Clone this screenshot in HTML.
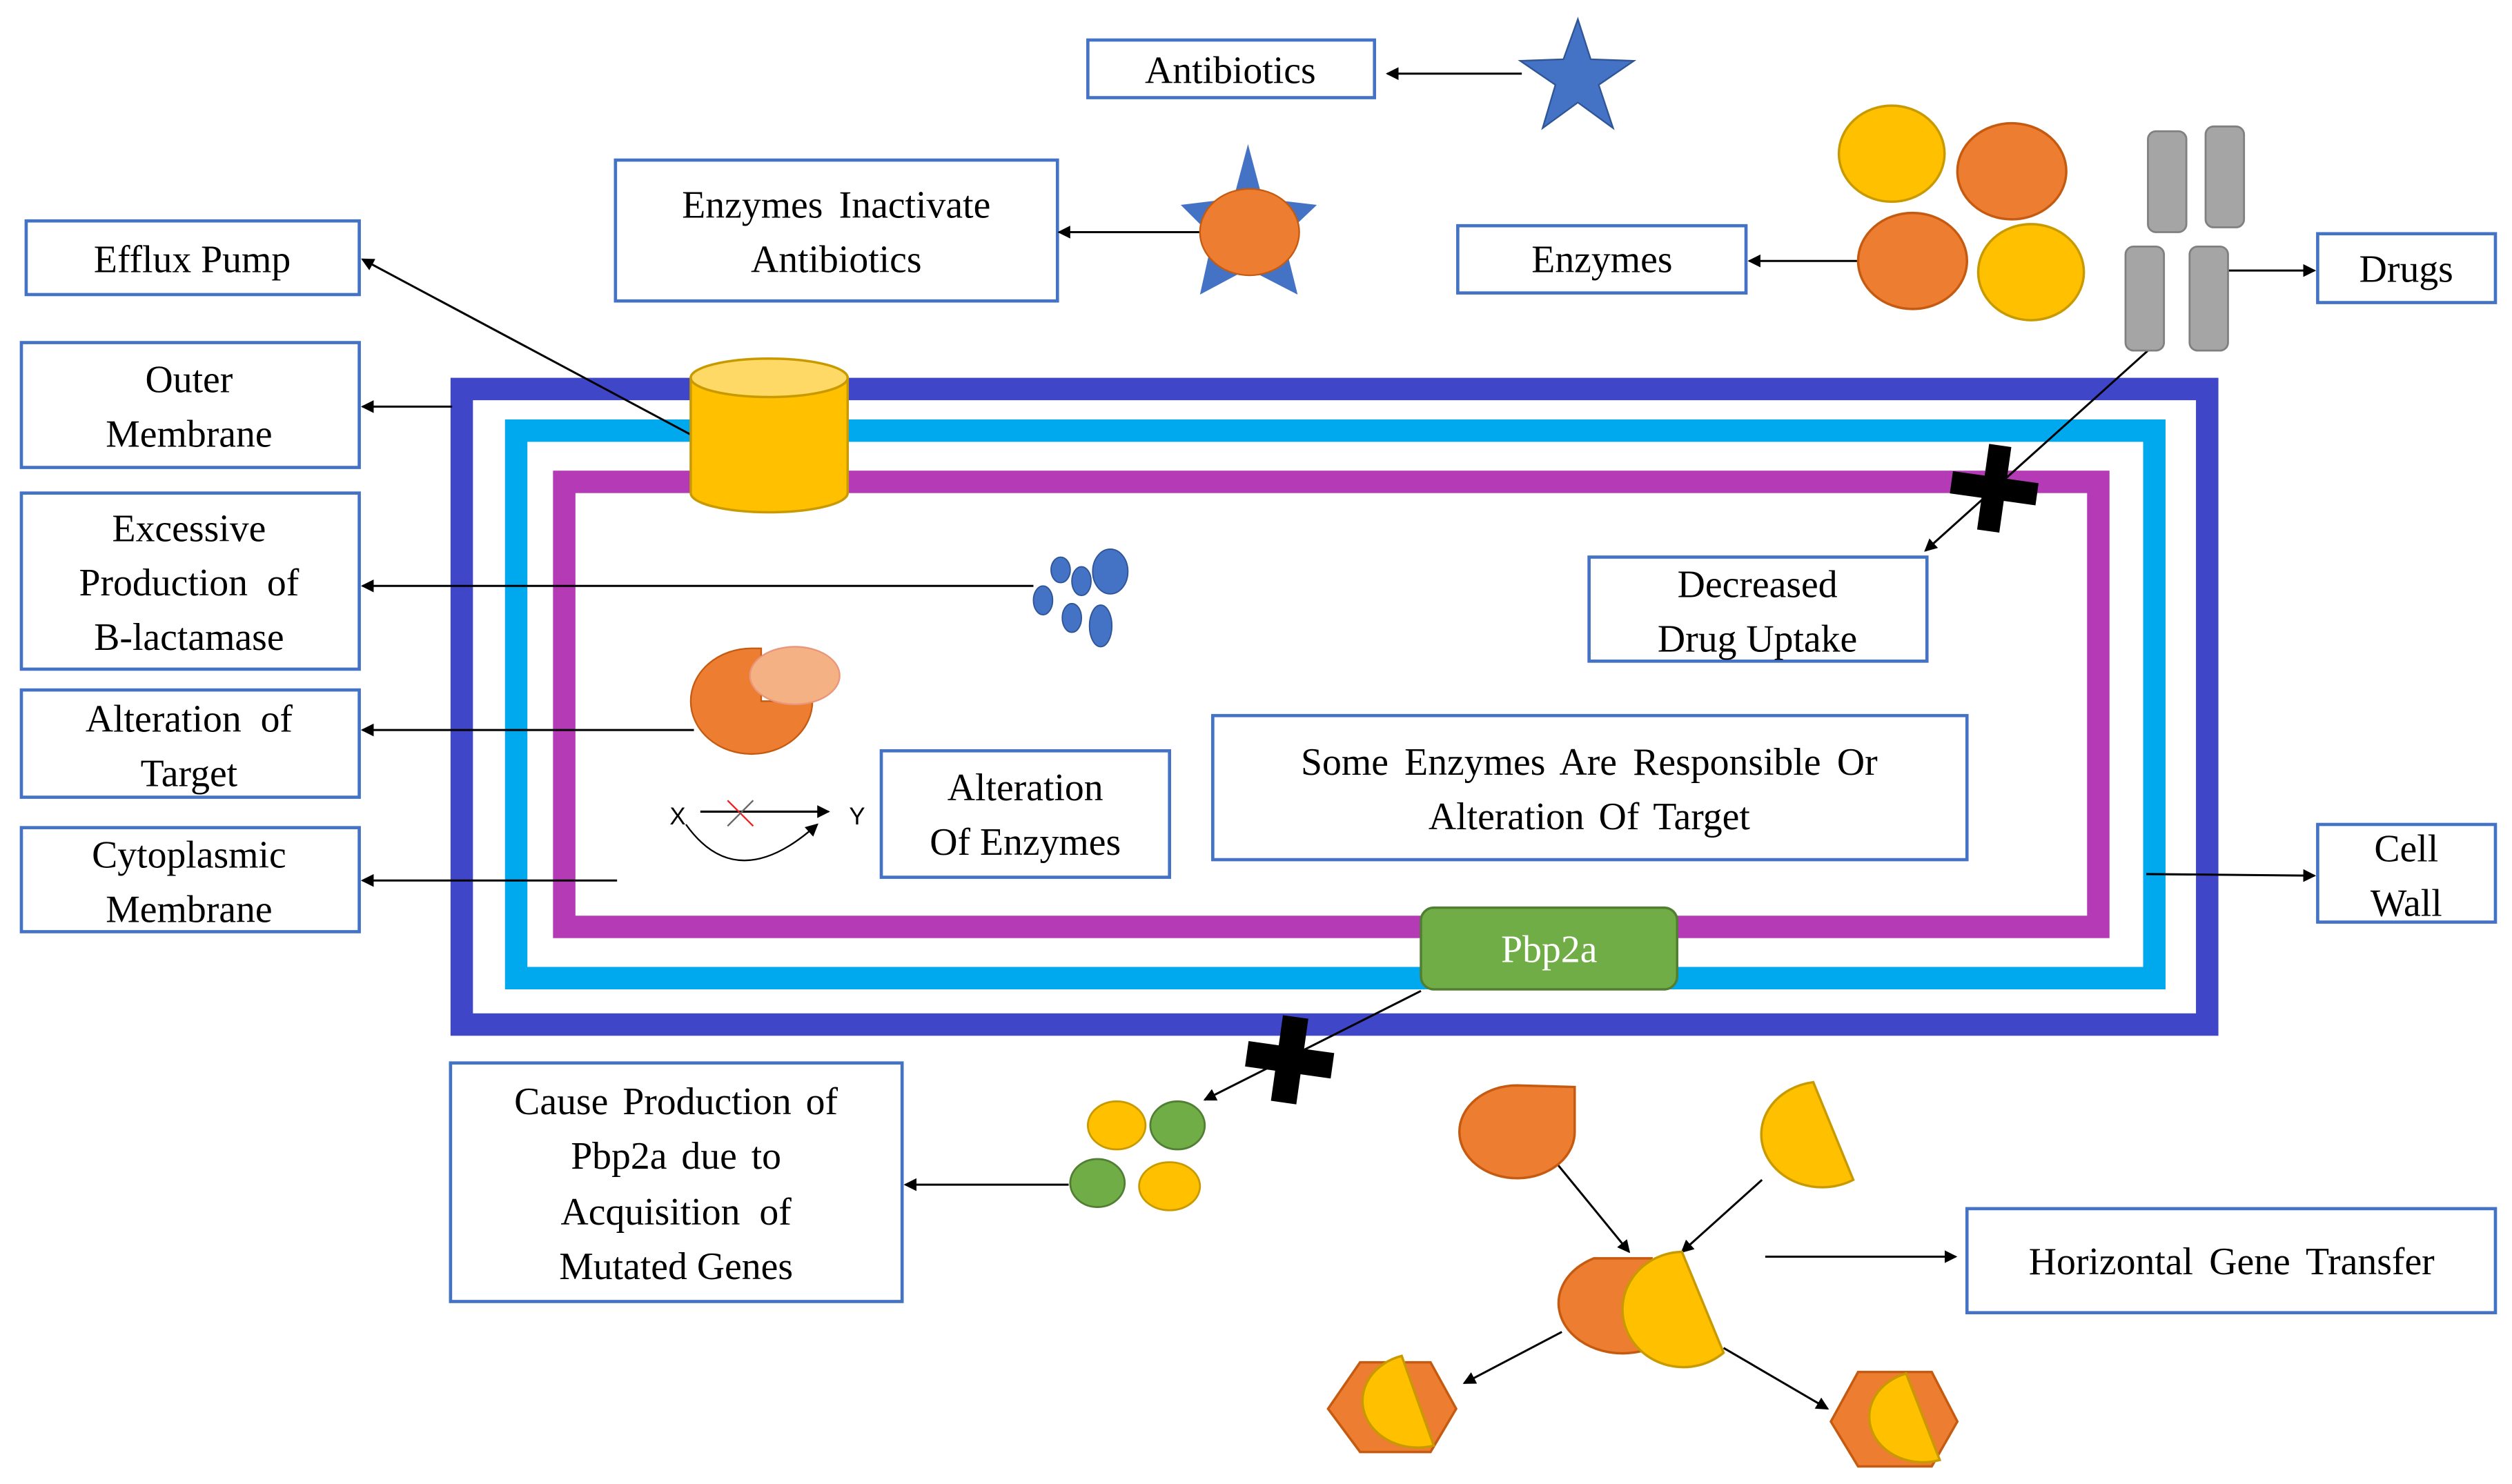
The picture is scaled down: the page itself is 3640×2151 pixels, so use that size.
<!DOCTYPE html>
<html><head><meta charset="utf-8"><style>
html,body{margin:0;padding:0;background:#fff;}
#wrap{position:relative;width:3640px;height:2151px;overflow:hidden;}
svg{display:block;position:absolute;left:0;top:0;}
#txt{position:absolute;left:0;top:0;width:1568px;height:927px;transform:scale(2.32143,2.32039);transform-origin:0 0;}
#txt div{position:absolute;width:400px;text-align:center;font-family:"Liberation Serif","Times New Roman",serif;font-size:24px;line-height:24px;color:#000;white-space:nowrap;}
#txt div.s{font-family:"Liberation Sans",sans-serif;font-size:15px;line-height:15px;width:20px;}
</style></head><body>
<div id="wrap">
<svg width="3640" height="2151" viewBox="0 0 1568 927" xmlns="http://www.w3.org/2000/svg">
<defs>
<marker id="a" markerWidth="8" markerHeight="8" refX="7" refY="4" orient="auto" markerUnits="userSpaceOnUse"><path d="M0,0 L8,4 L0,8 z" fill="#000"/></marker>
</defs>
<rect width="1568" height="927" fill="#fff"/>
<rect x="288" y="243" width="1090" height="397" fill="none" stroke="#3f46c8" stroke-width="14"/>
<rect x="322" y="269" width="1023" height="342" fill="none" stroke="#00a8ee" stroke-width="14"/>
<rect x="352" y="301" width="958" height="278" fill="none" stroke="#b53ab5" stroke-width="14"/>

<g fill="#fff" stroke="#4472c4" stroke-width="2">
<rect x="679" y="25" width="179" height="36"/>
<rect x="384" y="100" width="276" height="88"/>
<rect x="16" y="138" width="208" height="46"/>
<rect x="13" y="214" width="211" height="78"/>
<rect x="13" y="308" width="211" height="110"/>
<rect x="13" y="431" width="211" height="67"/>
<rect x="13" y="517" width="211" height="65"/>
<rect x="910" y="141" width="180" height="42"/>
<rect x="1447" y="146" width="111" height="43"/>
<rect x="992" y="348" width="211" height="65"/>
<rect x="757" y="447" width="471" height="90"/>
<rect x="550" y="469" width="180" height="79"/>
<rect x="1447" y="515" width="111" height="61"/>
<rect x="281" y="664" width="282" height="149"/>
<rect x="1228" y="755" width="330" height="65"/>
</g>

<g stroke="#000" stroke-width="1.3" fill="none">
<line x1="950" y1="46" x2="866" y2="46" marker-end="url(#a)"/>
<line x1="750" y1="145" x2="661" y2="145" marker-end="url(#a)"/>
<line x1="432" y1="272" x2="226" y2="162" marker-end="url(#a)"/>
<line x1="282" y1="254" x2="226" y2="254" marker-end="url(#a)"/>
<line x1="645" y1="366" x2="226" y2="366" marker-end="url(#a)"/>
<line x1="433" y1="456" x2="226" y2="456" marker-end="url(#a)"/>
<line x1="385" y1="550" x2="226" y2="550" marker-end="url(#a)"/>
<line x1="1160" y1="163" x2="1092" y2="163" marker-end="url(#a)"/>
<line x1="1391" y1="169" x2="1445" y2="169" marker-end="url(#a)"/>
<line x1="1341" y1="219" x2="1202" y2="344" marker-end="url(#a)"/>
<line x1="1340" y1="546" x2="1445" y2="547" marker-end="url(#a)"/>
<line x1="887" y1="619" x2="752" y2="687" marker-end="url(#a)"/>
<line x1="667" y1="740" x2="565" y2="740" marker-end="url(#a)"/>
<line x1="1102" y1="785" x2="1221" y2="785" marker-end="url(#a)"/>
<line x1="972" y1="727" x2="1017" y2="782" marker-end="url(#a)"/>
<line x1="1100" y1="737" x2="1050" y2="782" marker-end="url(#a)"/>
<line x1="975" y1="832" x2="914" y2="864" marker-end="url(#a)"/>
<line x1="1076" y1="842" x2="1141" y2="880" marker-end="url(#a)"/>
<line x1="437" y1="507" x2="517" y2="507" marker-end="url(#a)"/>
<path d="M428,515 Q460,560 510,515" marker-end="url(#a)" stroke-width="1"/>
</g>
<line x1="454" y1="500" x2="470" y2="516" stroke="#e22" stroke-width="1"/>
<line x1="470" y1="500" x2="454" y2="516" stroke="#666" stroke-width="1"/>

<path d="M431,236 L431,308 A49,12 0 0 0 529,308 L529,236 Z" fill="#ffc000" stroke="#c89a00" stroke-width="1.5"/>
<ellipse cx="480" cy="236" rx="49" ry="12" fill="#ffd966" stroke="#c89a00" stroke-width="1.5"/>

<polygon points="985,12 993,37 1020,38 998,53 1007,80 985,64 963,80 971,53 949,38 976,37" fill="#4472c4" stroke="#2f5597" stroke-width="1"/>
<polygon points="779,90 788,124 822,128 801,148 810,184 779,168 749,184 757,148 737,128 770,124" fill="#4472c4"/>
<ellipse cx="780" cy="145" rx="31" ry="27" fill="#ed7d31" stroke="#c55a11" stroke-width="1"/>

<g stroke-width="1.5">
<ellipse cx="1181" cy="96" rx="33" ry="30" fill="#ffc000" stroke="#c89a00"/>
<ellipse cx="1256" cy="107" rx="34" ry="30" fill="#ed7d31" stroke="#c55a11"/>
<ellipse cx="1194" cy="163" rx="34" ry="30" fill="#ed7d31" stroke="#c55a11"/>
<ellipse cx="1268" cy="170" rx="33" ry="30" fill="#ffc000" stroke="#c89a00"/>
</g>
<g fill="#a5a5a5" stroke="#808080" stroke-width="1.2">
<rect x="1341" y="82" width="24" height="63" rx="5"/>
<rect x="1377" y="79" width="24" height="63" rx="5"/>
<rect x="1327" y="154" width="24" height="65" rx="5"/>
<rect x="1367" y="154" width="24" height="65" rx="5"/>
</g>

<g fill="#000">
<g transform="translate(1245,305) rotate(8)"><rect x="-7" y="-27" width="14" height="54"/><rect x="-27" y="-7" width="54" height="14"/></g>
<g transform="translate(805,662) rotate(8)"><rect x="-8" y="-27" width="16" height="54"/><rect x="-27" y="-8" width="54" height="16"/></g>
</g>

<g fill="#4472c4" stroke="#2f5597" stroke-width="0.8">
<ellipse cx="693" cy="357" rx="11" ry="14"/>
<ellipse cx="662" cy="356" rx="6" ry="8"/>
<ellipse cx="675" cy="363" rx="6" ry="9"/>
<ellipse cx="651" cy="375" rx="6" ry="9"/>
<ellipse cx="669" cy="386" rx="6" ry="9"/>
<ellipse cx="687" cy="391" rx="7" ry="13"/>
</g>

<path d="M469,405 A38,33 0 1 0 507,438 L475,438 L475,405 Z" fill="#ed7d31" stroke="#c55a11" stroke-width="1"/>
<ellipse cx="496" cy="422" rx="28" ry="18" fill="#f4b183" stroke="#e9967a" stroke-width="1"/>

<rect x="887" y="567" width="160" height="51" rx="8" fill="#70ad47" stroke="#507e32" stroke-width="1.5"/>

<g stroke-width="1.2">
<ellipse cx="697" cy="703" rx="18" ry="15" fill="#ffc000" stroke="#c89a00"/>
<ellipse cx="735" cy="703" rx="17" ry="15" fill="#70ad47" stroke="#507e32"/>
<ellipse cx="685" cy="739" rx="17" ry="15" fill="#70ad47" stroke="#507e32"/>
<ellipse cx="730" cy="741" rx="19" ry="15" fill="#ffc000" stroke="#c89a00"/>
</g>

<g stroke-width="1.5">
<path d="M983,679 L983,706 A36,29 0 1 1 947,678 Z" fill="#ed7d31" stroke="#c55a11"/>
<path d="M1132,676 L1157,737 A38,33 0 1 1 1132,676 Z" fill="#ffc000" stroke="#c89a00"/>
<path d="M1031,786 L995,786 A37,29 0 1 0 1031,842 Z" fill="#ed7d31" stroke="#c55a11"/>
<path d="M1050,782 L1076,845 A38,36 0 1 1 1050,782 Z" fill="#ffc000" stroke="#c89a00"/>
<polygon points="849,851 893,851 909,880 893,907 849,907 829,880" fill="#ed7d31" stroke="#c55a11"/>
<path d="M875,847 L895,903 A33,28 0 1 1 875,847 Z" fill="#ffc000" stroke="#c89a00"/>
<polygon points="1160,857 1206,857 1222,888 1206,916 1160,916 1143,888" fill="#ed7d31" stroke="#c55a11"/>
<path d="M1190,858 L1211,912 A33,28 0 1 1 1190,858 Z" fill="#ffc000" stroke="#c89a00"/>
</g>
</svg>
<div id="txt">
<div style="left:568px;top:33px">Antibiotics</div>
<div style="left:322px;top:117px;word-spacing:4px">Enzymes Inactivate</div>
<div style="left:322px;top:151px">Antibiotics</div>
<div style="left:-80px;top:151px">Efflux Pump</div>
<div style="left:-82px;top:226px">Outer</div>
<div style="left:-82px;top:260px">Membrane</div>
<div style="left:-82px;top:319px">Excessive</div>
<div style="left:-82px;top:353px;word-spacing:6px">Production of</div>
<div style="left:-82px;top:387px">B-lactamase</div>
<div style="left:-82px;top:438px;word-spacing:6px">Alteration of</div>
<div style="left:-82px;top:472px">Target</div>
<div style="left:-82px;top:523px">Cytoplasmic</div>
<div style="left:-82px;top:557px">Membrane</div>
<div style="left:800px;top:151px">Enzymes</div>
<div style="left:1302px;top:157px">Drugs</div>
<div style="left:897px;top:354px">Decreased</div>
<div style="left:897px;top:388px">Drug Uptake</div>
<div style="left:792px;top:465px;word-spacing:4px">Some Enzymes Are Responsible Or</div>
<div style="left:792px;top:499px;word-spacing:3px">Alteration Of Target</div>
<div style="left:440px;top:481px">Alteration</div>
<div style="left:440px;top:515px">Of Enzymes</div>
<div style="left:1302px;top:519px">Cell</div>
<div style="left:1302px;top:553px">Wall</div>
<div style="left:767px;top:582px;color:#fff">Pbp2a</div>
<div style="left:222px;top:677px;word-spacing:3px">Cause Production of</div>
<div style="left:222px;top:711px;word-spacing:3px">Pbp2a due to</div>
<div style="left:222px;top:746px;word-spacing:6px">Acquisition of</div>
<div style="left:222px;top:780px">Mutated Genes</div>
<div style="left:1193px;top:777px;word-spacing:4px">Horizontal Gene Transfer</div>
<div class="s" style="left:413px;top:503px">X</div>
<div class="s" style="left:525px;top:503px">Y</div>
</div>
</div>
</body></html>
